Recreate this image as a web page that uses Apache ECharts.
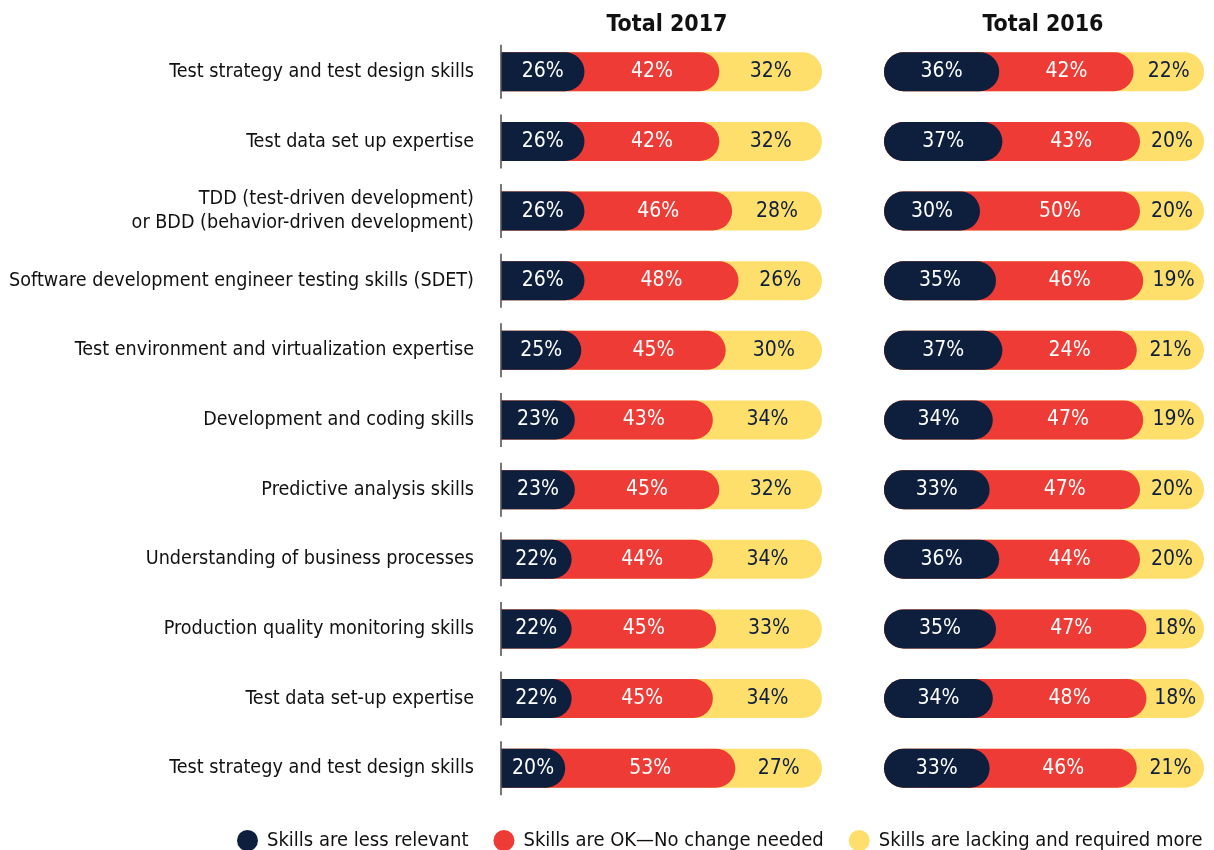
<!DOCTYPE html>
<html>
<head>
<meta charset="utf-8">
<script src="https://cdn.jsdelivr.net/npm/echarts@6/dist/echarts.min.js"></script>
<style>
  html, body { margin: 0; padding: 0; background: #fff; }
  #chart { width: 1214px; height: 850px; }
</style>
</head>
<body>
<div id="chart"></div>
<script>
// 技能分类
const skills = [
  'Test strategy and test design skills',
  'Test data set up expertise',
  'TDD (test-driven development)\nor BDD (behavior-driven development)',
  'Software development engineer testing skills (SDET)',
  'Test environment and virtualization expertise',
  'Development and coding skills',
  'Predictive analysis skills',
  'Understanding of business processes',
  'Production quality monitoring skills',
  'Test data set-up expertise',
  'Test strategy and test design skills'
]
// 2017
const lessRelevant2017 = [26, 26, 26, 26, 25, 23, 23, 22, 22, 22, 20]
const okNoChange2017 = [42, 42, 46, 48, 45, 43, 45, 44, 45, 45, 53]
const lacking2017 = [32, 32, 28, 26, 30, 34, 32, 34, 33, 34, 27]
// 2016
const lessRelevant2016 = [36, 37, 30, 35, 37, 34, 33, 36, 35, 34, 33]
const okNoChange2016 = [42, 43, 50, 46, 24, 47, 47, 44, 47, 48, 46]
const lacking2016 = [22, 20, 20, 19, 21, 19, 20, 20, 18, 18, 21]

const seriesNames = ['Skills are less relevant', 'Skills are OK\u2014No change needed', 'Skills are lacking and required more']
const colors = ['#0d1f3d', '#ef3b35', '#ffdf6b']
const labelColors = ['#ffffff', '#ffffff', '#0d1f3d']
const font = '"Liberation Sans Narrow", "DejaVu Sans Condensed", "Roboto", sans-serif'

let chart = echarts.init(document.getElementById('chart'))

// 每个面板：三条重叠的圆角条 + 一组透明堆叠条用于标签
function panelSeries (idx, dark, ok, lack, round) {
  let r = round ? [20, 20, 20, 20] : [0, 20, 20, 0]
  let ends = [
    dark,
    lack.map(v => 100 - v),
    lack.map(() => 100)
  ]
  let widths = [
    dark,
    dark.map((d, i) => 100 - lack[i] - d),
    lack
  ]
  let raw = [dark, ok, lack]
  let list = []
  // 底层先画黄色，最后画深色
  for (let k = 2; k >= 0; k--) {
    list.push({
      name: seriesNames[k],
      type: 'bar',
      xAxisIndex: idx,
      yAxisIndex: idx,
      barWidth: 39,
      barGap: '-100%',
      z: 2 + (2 - k),
      itemStyle: { color: colors[k], borderRadius: r },
      silent: true,
      data: ends[k]
    })
  }
  for (let k = 0; k < 3; k++) {
    list.push({
      type: 'bar',
      stack: 'lbl' + idx,
      xAxisIndex: idx,
      yAxisIndex: idx,
      barWidth: 39,
      z: 10,
      silent: true,
      itemStyle: { color: 'rgba(0,0,0,0)' },
      label: {
        show: true,
        position: 'inside',
        color: labelColors[k],
        fontFamily: font,
        fontSize: 21,
        formatter: p => raw[k][p.dataIndex] + '%'
      },
      data: widths[k]
    })
  }
  return list
}

let series = []
  .concat(panelSeries(0, lessRelevant2017, okNoChange2017, lacking2017, false))
  .concat(panelSeries(1, lessRelevant2016, okNoChange2016, lacking2016, true))

// 2017 左侧竖线
series.push({
  type: 'scatter',
  xAxisIndex: 0,
  yAxisIndex: 0,
  symbol: 'rect',
  symbolSize: [2, 54],
  z: 20,
  silent: true,
  itemStyle: { color: '#555555' },
  data: skills.map((s, i) => [0, i])
})

let option = {
  animation: false,
  color: colors,
  title: [
    { text: 'Total 2017', left: 662, top: 9, textAlign: 'center',
      textStyle: { fontFamily: font, fontSize: 23, fontWeight: 'bold', color: '#111' } },
    { text: 'Total 2016', left: 1038, top: 9, textAlign: 'center',
      textStyle: { fontFamily: font, fontSize: 23, fontWeight: 'bold', color: '#111' } }
  ],
  legend: {
    data: seriesNames,
    left: 232,
    top: 825,
    icon: 'circle',
    itemWidth: 21,
    itemHeight: 23,
    itemGap: 25,
    textStyle: { fontFamily: font, fontSize: 20, color: '#111', padding: [0, 0, 0, 4] }
  },
  grid: [
    { left: 501, width: 321, top: 37, height: 766, containLabel: false, outerBoundsMode: 'none' },
    { left: 884, width: 320, top: 37, height: 766, containLabel: false, outerBoundsMode: 'none' }
  ],
  xAxis: [
    { type: 'value', gridIndex: 0, min: 0, max: 100, show: false },
    { type: 'value', gridIndex: 1, min: 0, max: 100, show: false }
  ],
  yAxis: [
    {
      type: 'category',
      gridIndex: 0,
      inverse: true,
      data: skills,
      axisLine: { show: false },
      axisTick: { show: false },
      axisLabel: { fontFamily: font, fontSize: 19.6, color: '#111', margin: 27, lineHeight: 24, align: 'right' }
    },
    {
      type: 'category',
      gridIndex: 1,
      inverse: true,
      data: skills,
      show: false
    }
  ],
  series: series
}

chart.setOption(option)
window.addEventListener('resize', () => {
  chart.resize()
})
</script>
</body>
</html>
